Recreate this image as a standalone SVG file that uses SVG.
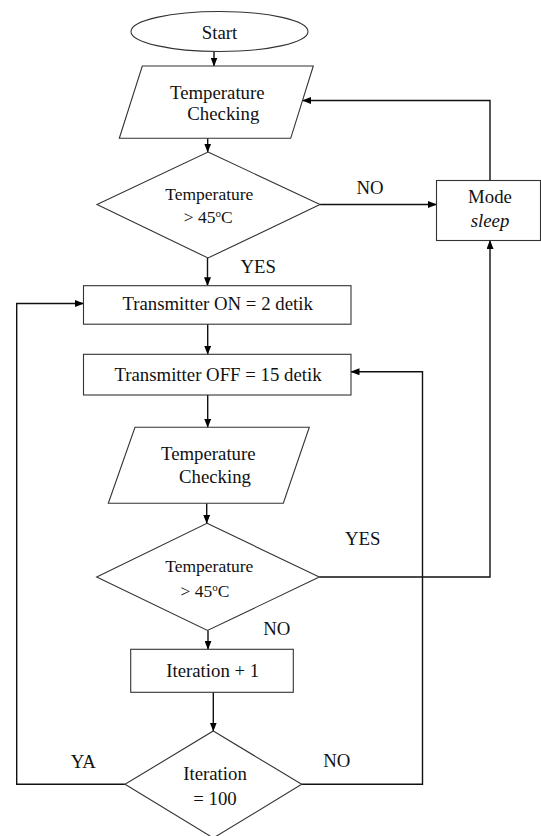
<svg xmlns="http://www.w3.org/2000/svg" width="541" height="836" viewBox="0 0 541 836">
<style>
.shape{fill:#fff;stroke:#333;stroke-width:1.1}
.conn{fill:none;stroke:#111;stroke-width:1.4}
.t{font-family:"Liberation Serif","Times New Roman",serif;font-size:18.8px;fill:#111;text-anchor:middle}
.d{font-size:17.5px}
.i{font-style:italic}
.sup{font-size:11px}
</style>
<defs>
<marker id="arr" markerWidth="9" markerHeight="7" refX="8.5" refY="3.5" orient="auto" markerUnits="userSpaceOnUse">
<path d="M0,0 L9,3.5 L0,7 z" fill="#000"/>
</marker>
</defs>
<rect width="541" height="836" fill="#fff"/>
<g id="connectors">
<path class="conn" d="M214,51.5 V66" marker-end="url(#arr)"/>
<path class="conn" d="M207.7,138.3 V152" marker-end="url(#arr)"/>
<path class="conn" d="M320,204.5 H436.5" marker-end="url(#arr)"/>
<path class="conn" d="M490,180.5 V100.5 H302.5" marker-end="url(#arr)"/>
<path class="conn" d="M207.5,258 V285.7" marker-end="url(#arr)"/>
<path class="conn" d="M207.7,324.2 V354.3" marker-end="url(#arr)"/>
<path class="conn" d="M207.7,395 V427.3" marker-end="url(#arr)"/>
<path class="conn" d="M206.7,503.3 V523.3" marker-end="url(#arr)"/>
<path class="conn" d="M319.3,577 H490 V240.5" marker-end="url(#arr)"/>
<path class="conn" d="M208,630.5 V649.3" marker-end="url(#arr)"/>
<path class="conn" d="M213.3,692.3 V731" marker-end="url(#arr)"/>
<path class="conn" d="M125,784.3 H16.7 V303.5 H83.5" marker-end="url(#arr)"/>
<path class="conn" d="M301.7,784.3 H422.5 V371.7 H351" marker-end="url(#arr)"/>
<text class="t" x="370" y="194">NO</text>
<text class="t" x="258.3" y="272.7">YES</text>
<text class="t" x="362.7" y="545">YES</text>
<text class="t" x="276.7" y="635">NO</text>
<text class="t" x="83.3" y="768.3">YA</text>
<text class="t" x="336.7" y="767.3">NO</text>
</g>
<g id="start">
<ellipse class="shape" cx="219.5" cy="31.5" rx="88.5" ry="20"/>
<text class="t" x="219.5" y="38.5">Start</text>
</g>
<g id="check1">
<polygon class="shape" points="142.3,66 313.3,66 290.7,138.3 119.3,138.3"/>
<text class="t" x="217.3" y="99.3">Temperature</text>
<text class="t" x="223.3" y="120">Checking</text>
</g>
<g id="decision1">
<polygon class="shape" points="208,152 320,204.5 208,258 97,204.5"/>
<text class="t d" x="209.3" y="200">Temperature</text>
<text class="t d" x="208.3" y="222.7">&gt; 45<tspan class="sup" dy="-6">o</tspan><tspan dy="6">C</tspan></text>
</g>
<g id="mode-sleep">
<rect class="shape" x="436.5" y="180.5" width="104" height="60"/>
<text class="t" x="490" y="203">Mode</text>
<text class="t i" x="490" y="226.7">sleep</text>
</g>
<g id="tx-on">
<rect class="shape" x="83.5" y="285.7" width="267.5" height="38.5"/>
<text class="t" x="217.6" y="310">Transmitter ON = 2 detik</text>
</g>
<g id="tx-off">
<rect class="shape" x="83.5" y="354.3" width="267.5" height="40.7"/>
<text class="t" x="218" y="380.5">Transmitter OFF = 15 detik</text>
</g>
<g id="check2">
<polygon class="shape" points="135,427.3 309.3,427.3 283.3,503.3 108.3,503.3"/>
<text class="t" x="208.3" y="460">Temperature</text>
<text class="t" x="215" y="483.3">Checking</text>
</g>
<g id="decision2">
<polygon class="shape" points="207,523.3 319.3,577 207.5,630.5 96.7,577"/>
<text class="t d" x="209.3" y="571.7">Temperature</text>
<text class="t d" x="205" y="596.7">&gt; 45<tspan class="sup" dy="-6">o</tspan><tspan dy="6">C</tspan></text>
</g>
<g id="iteration">
<rect class="shape" x="130.7" y="649.3" width="162.6" height="43"/>
<text class="t" x="212.7" y="676.5">Iteration + 1</text>
</g>
<g id="decision3">
<polygon class="shape" points="213.3,731 301.7,784.3 213.3,838 125,784.3"/>
<text class="t" x="215" y="780">Iteration</text>
<text class="t" x="215" y="805">= 100</text>
</g>
</svg>
